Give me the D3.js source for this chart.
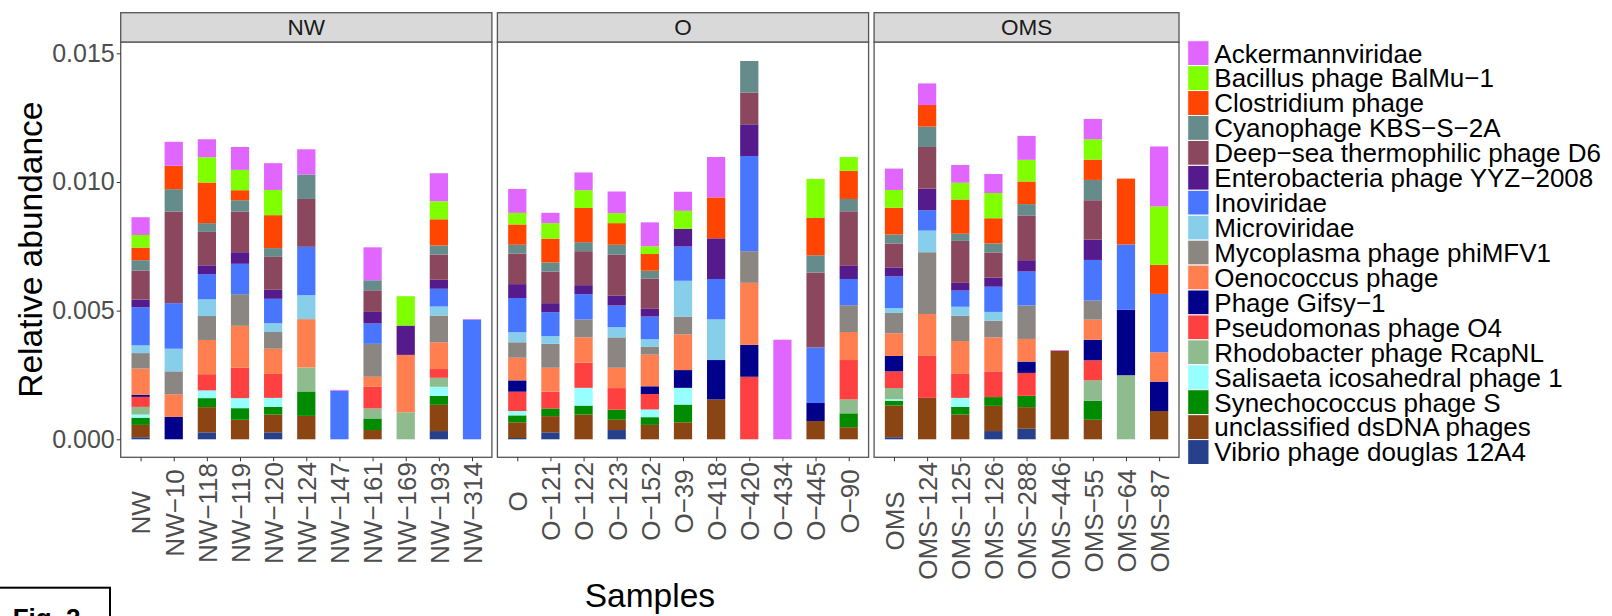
<!DOCTYPE html>
<html lang="en">
<head>
  <meta charset="UTF-8">
  <title>Relative abundance of phage taxa</title>
  <script src="https://d3js.org/d3.v7.min.js"></script>
  <style>
    body {
      margin: 0;
      background-color: #fff;
    }
    svg {
      display: block;
      font-family: "Liberation Sans", Arial, sans-serif;
    }
    .axis path.domain {
      display: none;
    }
    .axis .tick line {
      stroke: #333;
    }
    .axis .tick text {
      fill: #4d4d4d;
    }
  </style>
</head>
<body>
  <div id="chart"></div>

  <script>
    // Taxa in legend order (the first one ends up on top of every stack)
    const taxa = [
      'Ackermannviridae', 'Bacillus phage BalMu\u22121', 'Clostridium phage',
      'Cyanophage KBS\u2212S\u22122A', 'Deep\u2212sea thermophilic phage D6',
      'Enterobacteria phage YYZ\u22122008', 'Inoviridae', 'Microviridae',
      'Mycoplasma phage phiMFV1', 'Oenococcus phage', 'Phage Gifsy\u22121',
      'Pseudomonas phage O4', 'Rhodobacter phage RcapNL', 'Salisaeta icosahedral phage 1',
      'Synechococcus phage S', 'unclassified dsDNA phages', 'Vibrio phage douglas 12A4'
    ];
    const taxaColors = [
      '#E066FF', '#7FFF00', '#FF4500', '#668B8B', '#8B475D', '#551A8B',
      '#4876FF', '#87CEEB', '#8B8682', '#FF7F50', '#00008B', '#FF4040',
      '#8FBC8F', '#97FFFF', '#008B00', '#8B4513', '#27408B'
    ];

    const panelNames = ['NW', 'O', 'OMS'];
    const nwSamples = ['NW', 'NW\u221210', 'NW\u2212118', 'NW\u2212119', 'NW\u2212120', 'NW\u2212124',
      'NW\u2212147', 'NW\u2212161', 'NW\u2212169', 'NW\u2212193', 'NW\u2212314'];
    const oSamples = ['O', 'O\u2212121', 'O\u2212122', 'O\u2212123', 'O\u2212152', 'O\u221239',
      'O\u2212418', 'O\u2212420', 'O\u2212434', 'O\u2212445', 'O\u221290'];
    const omsSamples = ['OMS', 'OMS\u2212124', 'OMS\u2212125', 'OMS\u2212126', 'OMS\u2212288',
      'OMS\u2212446', 'OMS\u221255', 'OMS\u221264', 'OMS\u221287'];

    // relative abundance, one row per sample, columns follow `taxa`, in units of 1e-4
    const nwValues = [
      [6.9, 4.9, 4.9, 4.0, 11.3, 3.0, 14.8, 3.0, 6.0, 10.2, 0.8, 3.9, 3.0, 1.2, 2.8, 4.8, 0.8],
      [9.3, 0, 9.1, 8.7, 35.6, 0, 17.7, 8.8, 8.9, 8.8, 8.7, 0, 0, 0, 0, 0, 0],
      [7.0, 9.8, 15.8, 3.4, 13.0, 3.4, 9.8, 6.5, 9.3, 13.3, 0, 6.3, 0, 3.0, 3.5, 9.8, 2.7],
      [8.9, 7.9, 3.9, 4.4, 15.8, 4.5, 11.8, 0, 12.3, 16.3, 0, 11.8, 0, 3.9, 4.5, 7.6, 0],
      [10.4, 9.8, 12.8, 3.4, 12.8, 3.5, 9.5, 3.4, 6.5, 9.8, 0, 9.3, 0, 3.5, 3.0, 6.9, 2.7],
      [9.8, 0, 0, 9.5, 18.6, 0, 18.8, 9.3, 0, 18.8, 0, 0, 9.3, 0, 9.5, 9.1, 0],
      [0.3, 0, 0, 0, 0, 0, 18.9, 0, 0, 0, 0, 0, 0, 0, 0, 0, 0],
      [12.8, 0, 0, 3.9, 8.4, 4.5, 7.9, 0, 12.8, 3.9, 0, 8.4, 3.9, 0, 4.5, 3.6, 0],
      [0, 11.4, 0, 0, 0, 11.4, 0, 0, 0, 22.3, 0, 0, 10.5, 0, 0, 0, 0],
      [10.9, 7.0, 10.2, 3.5, 9.8, 3.5, 6.9, 3.5, 10.4, 10.4, 0, 3.4, 3.5, 3.5, 3.5, 10.2, 3.2],
      [0.3, 0, 0, 0, 0, 0, 46.4, 0, 0, 0, 0, 0, 0, 0, 0, 0, 0]
    ];
    const oValues = [
      [9.3, 4.5, 7.9, 3.4, 11.9, 5.4, 13.3, 3.9, 6.0, 8.8, 4.4, 7.5, 0, 1.7, 2.7, 6.1, 0.5],
      [4.0, 6.0, 9.3, 3.5, 12.3, 3.5, 9.3, 3.0, 9.3, 9.3, 0, 6.5, 0, 0, 3.0, 6.3, 2.7],
      [6.9, 6.9, 13.3, 3.5, 13.2, 3.5, 9.8, 0, 7.0, 9.8, 0, 9.8, 0, 6.9, 3.5, 9.6, 0],
      [8.4, 3.9, 8.4, 3.9, 15.8, 3.9, 8.4, 4.0, 11.8, 7.9, 0, 8.4, 0, 0, 3.9, 4.0, 3.6],
      [9.3, 3.0, 6.5, 3.0, 11.8, 3.0, 8.8, 3.0, 3.0, 12.3, 3.0, 6.0, 0, 3.0, 3.0, 5.6, 0],
      [7.4, 7.0, 0, 0, 0, 6.9, 13.3, 13.9, 6.9, 13.9, 6.9, 0, 0, 6.5, 6.9, 6.6, 0],
      [15.7, 0, 15.9, 0, 0, 15.8, 15.7, 15.8, 0, 0, 15.3, 0, 0, 0, 0, 15.5, 0],
      [0, 0, 0, 12.3, 12.3, 12.3, 37.0, 0, 12.3, 24.1, 12.4, 24.3, 0, 0, 0, 0, 0],
      [38.7, 0, 0, 0, 0, 0, 0, 0, 0, 0, 0, 0, 0, 0, 0, 0, 0],
      [0, 15.2, 14.5, 6.7, 29.1, 0, 21.6, 0, 0, 0, 7.0, 0, 0, 0, 0, 7.1, 0],
      [0, 5.4, 10.9, 4.8, 21.2, 5.1, 10.2, 0, 10.4, 10.9, 0, 15.3, 5.4, 0, 5.4, 4.7, 0]
    ];
    const omsValues = [
      [8.3, 6.9, 10.4, 3.5, 9.3, 3.5, 12.3, 1.9, 7.9, 8.8, 6.0, 6.5, 4.3, 0.6, 1.9, 12.3, 0.8],
      [8.4, 0, 8.4, 7.9, 16.2, 8.4, 7.9, 8.4, 24.0, 16.3, 0, 16.3, 0, 0, 0, 16.1, 0],
      [6.9, 6.5, 13.3, 2.8, 16.3, 3.0, 6.3, 3.5, 9.8, 12.8, 0, 9.3, 0, 3.5, 3.0, 9.6, 0],
      [7.4, 9.8, 9.8, 3.5, 9.8, 3.5, 9.8, 3.4, 6.5, 13.2, 0, 10.0, 0, 0, 3.4, 9.8, 3.2],
      [9.3, 8.4, 8.8, 4.4, 17.4, 4.4, 13.2, 0, 13.0, 8.8, 4.4, 8.9, 0, 0, 4.4, 8.4, 4.1],
      [0.3, 0, 0, 0, 0, 0, 0, 0, 0, 0, 0, 0, 0, 0, 0, 34.4, 0],
      [7.9, 7.9, 7.9, 7.9, 15.3, 7.9, 15.8, 0, 7.4, 7.8, 8.0, 7.8, 7.9, 0, 7.4, 7.6, 0],
      [0, 0, 25.6, 0, 0, 0, 25.3, 0, 0, 0, 25.5, 0, 24.9, 0, 0, 0, 0],
      [23.3, 22.7, 11.3, 0, 0, 0, 22.7, 0, 0, 11.4, 11.4, 0, 0, 0, 0, 11.0, 0]
    ];
    const valueUnit = 1e-4;

    const yTicks = [0, 0.005, 0.010, 0.015];

    // Layout
    const width = 1612;
    const height = 616;
    const plotLeft = 120.7;
    const plotRight = 1179;
    const panelGap = 5.5;
    const stripTop = 12.7;
    const stripBottom = 42;
    const panelBottom = 457.3;

    const svg = d3.select('#chart')
      .append('svg')
      .attr('width', width)
      .attr('height', height);

    const color = d3.scaleOrdinal().domain(taxa).range(taxaColors);

    const y = d3.scaleLinear()
      .domain([0, 0.015])
      .range([439.3, 53.3]);

    const panels = [
      { name: panelNames[0], samples: nwSamples, values: nwValues },
      { name: panelNames[1], samples: oSamples, values: oValues },
      { name: panelNames[2], samples: omsSamples, values: omsValues }
    ];

    // panels get width proportional to their number of samples (free x space)
    const totalUnits = d3.sum(panels, p => p.samples.length + 0.2);
    const unit = (plotRight - plotLeft - panelGap * (panels.length - 1)) / totalUnits;
    let x0 = plotLeft;
    panels.forEach(p => {
      p.x0 = x0;
      p.w = (p.samples.length + 0.2) * unit;
      x0 += p.w + panelGap;
    });

    // bottom-most taxon is the last one of the legend
    const stack = d3.stack().keys(taxa.slice().reverse());
    const barWidth = unit * 0.55;

    panels.forEach(p => {
      const x = d3.scalePoint()
        .domain(p.samples)
        .range([p.x0, p.x0 + p.w])
        .padding(0.6);

      const rows = p.samples.map((s, i) => {
        const row = { sample: s };
        taxa.forEach((t, j) => { row[t] = p.values[i][j] * valueUnit; });
        return row;
      });
      const series = stack(rows);

      const g = svg.append('g');

      g.append('rect')
        .attr('x', p.x0)
        .attr('y', stripBottom)
        .attr('width', p.w)
        .attr('height', panelBottom - stripBottom)
        .attr('fill', '#fff');

      g.selectAll('g.layer')
        .data(series)
        .join('g')
        .attr('class', 'layer')
        .attr('fill', d => color(d.key))
        .selectAll('rect')
        .data(d => d.filter(v => v[1] - v[0] > 0))
        .join('rect')
        .attr('x', d => x(d.data.sample) - barWidth / 2)
        .attr('y', d => y(d[1]))
        .attr('width', barWidth)
        .attr('height', d => y(d[0]) - y(d[1]));

      // panel border
      g.append('rect')
        .attr('x', p.x0)
        .attr('y', stripBottom)
        .attr('width', p.w)
        .attr('height', panelBottom - stripBottom)
        .attr('fill', 'none')
        .attr('stroke', '#555')
        .attr('stroke-width', 1.3);

      // facet strip
      g.append('rect')
        .attr('x', p.x0)
        .attr('y', stripTop)
        .attr('width', p.w)
        .attr('height', stripBottom - stripTop)
        .attr('fill', '#d9d9d9')
        .attr('stroke', '#555')
        .attr('stroke-width', 1.3);

      g.append('text')
        .attr('x', p.x0 + p.w / 2)
        .attr('y', (stripTop + stripBottom) / 2)
        .attr('dy', '0.36em')
        .attr('text-anchor', 'middle')
        .attr('font-size', 22.5)
        .attr('fill', '#1a1a1a')
        .text(p.name);

      // x axis with vertical sample labels
      const xAxis = g.append('g')
        .attr('class', 'axis')
        .attr('transform', `translate(0, ${panelBottom})`)
        .call(d3.axisBottom(x).tickSize(4));

      const labels = xAxis.selectAll('.tick text')
        .attr('font-size', 26)
        .attr('font-family', null);
      let maxLen = 0;
      labels.each(function () { maxLen = Math.max(maxLen, this.getComputedTextLength()); });
      labels
        .attr('x', 0)
        .attr('y', 0)
        .attr('dy', '0.36em')
        .attr('text-anchor', 'middle')
        .attr('transform', `translate(0, ${4.7 + maxLen / 2}) rotate(-90)`);
    });

    // y axis on the first panel
    const yAxis = svg.append('g')
      .attr('class', 'axis')
      .attr('transform', `translate(${plotLeft}, 0)`)
      .call(d3.axisLeft(y).tickValues(yTicks).tickFormat(d3.format('.3f')).tickSize(4).tickPadding(2));
    yAxis.selectAll('.tick text')
      .attr('font-size', 25)
      .attr('font-family', null);

    // axis titles
    svg.append('text')
      .attr('transform', `translate(42.3, ${(stripBottom + panelBottom) / 2}) rotate(-90)`)
      .attr('text-anchor', 'middle')
      .attr('font-size', 33.5)
      .attr('fill', '#000')
      .text('Relative abundance');

    svg.append('text')
      .attr('x', (plotLeft + plotRight) / 2)
      .attr('y', 607)
      .attr('text-anchor', 'middle')
      .attr('font-size', 33.5)
      .attr('fill', '#000')
      .text('Samples');

    // legend
    const keyH = 24.93;
    const legend = svg.append('g')
      .attr('transform', 'translate(1187.7, 40.7)');
    const item = legend.selectAll('g')
      .data(taxa)
      .join('g')
      .attr('transform', (d, i) => `translate(0, ${i * keyH})`);
    item.append('rect')
      .attr('width', 21.3)
      .attr('height', keyH)
      .attr('fill', d => color(d))
      .attr('stroke', '#fff')
      .attr('stroke-width', 1);
    item.append('text')
      .attr('x', 26.6)
      .attr('y', keyH / 2)
      .attr('dy', '0.36em')
      .attr('font-size', 26)
      .attr('fill', '#000')
      .text(d => d);

    // figure tag, cut by the bottom edge
    svg.append('rect')
      .attr('x', -2)
      .attr('y', 587.7)
      .attr('width', 112)
      .attr('height', 40)
      .attr('fill', '#fff')
      .attr('stroke', '#000')
      .attr('stroke-width', 2);
    svg.append('text')
      .attr('x', 12.7)
      .attr('y', 626.6)
      .attr('font-size', 26)
      .attr('font-weight', 'bold')
      .attr('fill', '#000')
      .text('Fig. 2');
  </script>
</body>
</html>
